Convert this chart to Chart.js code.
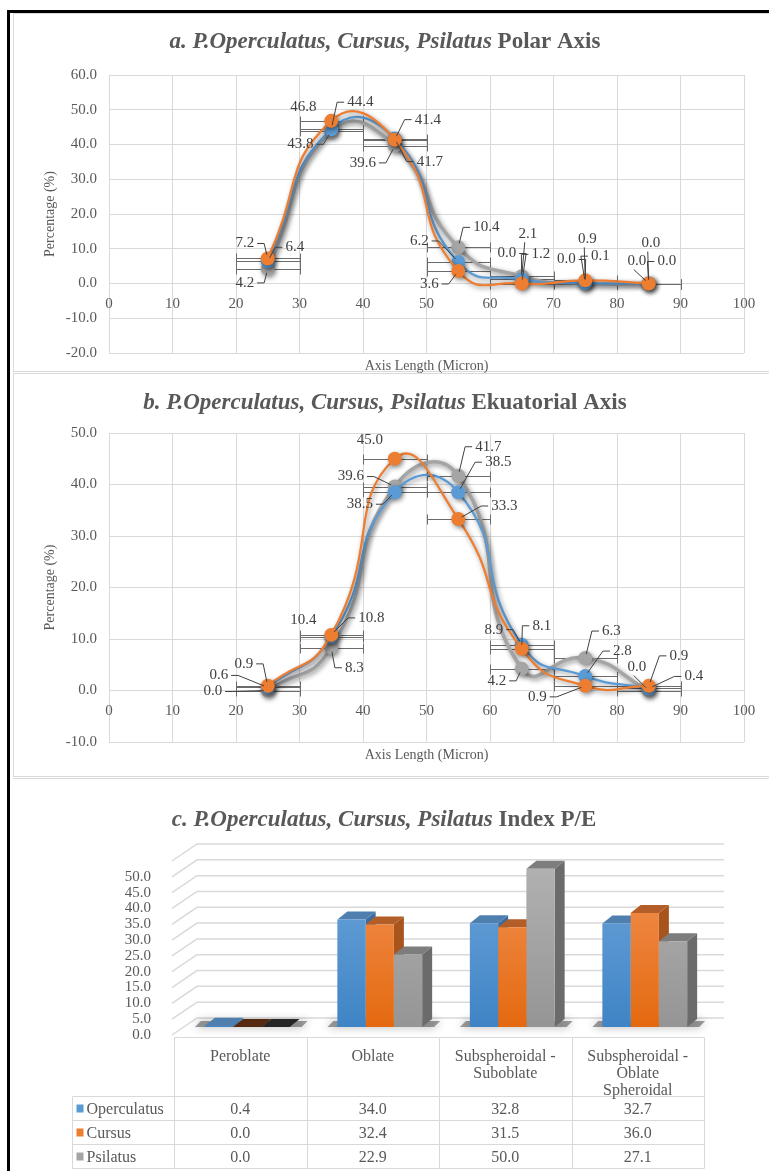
<!DOCTYPE html>
<html>
<head>
<meta charset="utf-8">
<script src="https://cdn.jsdelivr.net/npm/chart.js@4.4.1/dist/chart.umd.min.js"></script>
<style>
  body { margin: 0; background: #fff; width: 769px; height: 1171px; overflow: hidden; position: relative; }
  .frame { position: absolute; left: 7px; top: 10px; width: 770px; height: 1170px; border-left: 3px solid #000; border-top: 3px solid #000; }
  .panel { position: absolute; left: 13px; width: 760px; box-sizing: border-box; border: 1px solid #d9d9d9; }
  canvas { position: absolute; left: 0; top: 0; }
</style>
</head>
<body>
<div class="frame"></div>
<div class="panel" style="top:13px;height:359px"><canvas id="chartA" width="755" height="362"></canvas></div>
<div class="panel" style="top:373px;height:404px;background:#fff"><canvas id="chartB" width="755" height="402"></canvas></div>
<div class="panel" style="top:778px;height:400px;border-bottom:none;border-left:none;background:#fff"><canvas id="chartC" width="755" height="393"></canvas></div>

<script>
// data
const seriesNames = ['Operculatus', 'Cursus', 'Psilatus']
const axisLengthMid = [25, 35, 45, 55, 65, 75, 85]
const errorHalfWidth = 5 // class width is 10 micron

const polarOperculatus = [6.4, 44.4, 41.7, 6.2, 1.2, 0.1, 0.0]
const polarCursus = [7.2, 46.8, 41.4, 3.6, 0.0, 0.9, 0.0]
const polarPsilatus = [4.2, 43.8, 39.6, 10.4, 2.1, 0.0, 0.0]

const equatorialOperculatus = [0.6, 10.4, 38.5, 38.5, 8.9, 2.8, 0.4]
const equatorialCursus = [0.9, 10.8, 45.0, 33.3, 8.1, 0.9, 0.9]
const equatorialPsilatus = [0.0, 8.3, 39.6, 41.7, 4.2, 6.3, 0.0]

const shapeClasses = ['Peroblate', 'Oblate', ['Subspheroidal -', 'Suboblate'], ['Subspheroidal -', 'Oblate', 'Spheroidal']]
const indexOperculatus = [0.4, 34.0, 32.8, 32.7]
const indexCursus = [0.0, 32.4, 31.5, 36.0]
const indexPsilatus = [0.0, 22.9, 50.0, 27.1]

// styles
const seriesColors = ['#5b9bd5', '#ed7d31', '#a5a5a5']
const gradTop = ['#70a7dc', '#f3955a', '#b3b3b3']
const gradBottom = ['#3f84c5', '#e4690f', '#959595']
const sideColors = ['#3c6d9e', '#a8541d', '#6b6b6b']
const topColors = ['#4f7fae', '#b35e28', '#7d7d7d']
const zeroTopColors = ['#4d78a3', '#552a10', '#262626']

// label offsets [dx, dy, leader] per series per point
const polarLabelPos = [
  [[27, -14, 1], [29, -27, 1], [35, 23, 1], [-39, -21, 1], [19, -25, 1], [15, -27, 1], [18, -22, 1]],
  [[-23, -15, 1], [-28, -14, 0], [33, -20, 1], [-29, 13, 1], [-15, -30, 1], [2, -41, 1], [2, -40, 1]],
  [[-23, 14, 1], [-31, 13, 1], [-32, 17, 1], [28, -20, 1], [6, -42, 1], [-19, -24, 1], [-12, -22, 1]],
]
const equatorialLabelPos = [
  [[-49, -12, 1], [-28, -17, 0], [-35, 12, 1], [40, -30, 1], [-28, -15, 1], [37, -25, 1], [45, -12, 1]],
  [[-24, -22, 1], [40, -17, 1], [-25, -19, 0], [46, -13, 1], [20, -23, 1], [-48, 11, 1], [30, -30, 1]],
  [[-55, 1, 1], [23, 20, 1], [-44, -10, 1], [30, -29, 1], [-25, 12, 1], [26, -27, 1], [-12, -23, 1]],
]

Chart.defaults.font.family = '"Liberation Serif", "Times New Roman", serif'
Chart.defaults.color = '#595959'
const gridColor = '#d9d9d9'

const titlePlugin = (lead, tail, cx, cy) => ({
  id: 'panelTitle',
  afterDraw(chart) {
    const { ctx } = chart
    ctx.save()
    ctx.fillStyle = '#595959'
    ctx.textBaseline = 'middle'
    ctx.textAlign = 'left'
    const f1 = 'italic bold 23px "Liberation Serif"'
    const f2 = 'bold 23px "Liberation Serif"'
    ctx.font = f1
    const w1 = ctx.measureText(lead).width
    ctx.font = f2
    const w2 = ctx.measureText(tail).width
    const x0 = cx - (w1 + w2) / 2
    ctx.font = f1
    ctx.fillText(lead, x0, cy)
    ctx.font = f2
    ctx.fillText(tail, x0 + w1, cy)
    ctx.restore()
  },
})

const axisTitlePlugin = (text, cy) => ({
  id: 'axisTitle',
  afterDraw(chart) {
    const { ctx, chartArea } = chart
    ctx.save()
    ctx.font = '14px "Liberation Serif"'
    ctx.fillStyle = '#595959'
    ctx.textAlign = 'center'
    ctx.textBaseline = 'middle'
    ctx.fillText(text, (chartArea.left + chartArea.right) / 2, cy)
    ctx.restore()
  },
})

const errorBarsPlugin = {
  id: 'errorBars',
  beforeDatasetsDraw(chart) {
    const { ctx, scales: { x, y } } = chart
    ctx.save()
    ctx.strokeStyle = '#6b6b6b'
    ctx.lineWidth = 1
    chart.data.datasets.forEach(ds => {
      ds.data.forEach(p => {
        const py = Math.round(y.getPixelForValue(p.y)) + 0.5
        const x1 = Math.round(x.getPixelForValue(p.x - errorHalfWidth)) + 0.5
        const x2 = Math.round(x.getPixelForValue(p.x + errorHalfWidth)) + 0.5
        ctx.beginPath()
        ctx.moveTo(x1, py)
        ctx.lineTo(x2, py)
        ctx.moveTo(x1, py - 5)
        ctx.lineTo(x1, py + 5)
        ctx.moveTo(x2, py - 5)
        ctx.lineTo(x2, py + 5)
        ctx.stroke()
      })
    })
    ctx.restore()
  },
}

const shadowPlugin = {
  id: 'shadow',
  beforeDatasetDraw(chart) {
    const { ctx } = chart
    ctx.save()
    ctx.shadowColor = 'rgba(0,0,0,0.45)'
    ctx.shadowBlur = 5
    ctx.shadowOffsetX = 1.5
    ctx.shadowOffsetY = 2
  },
  afterDatasetDraw(chart) {
    chart.ctx.restore()
  },
}

const pointLabelsPlugin = offsets => ({
  id: 'pointLabels',
  afterDatasetsDraw(chart) {
    const { ctx } = chart
    ctx.save()
    ctx.font = '15px "Liberation Serif"'
    ctx.fillStyle = '#404040'
    ctx.strokeStyle = '#404040'
    ctx.lineWidth = 1
    ctx.textAlign = 'center'
    ctx.textBaseline = 'middle'
    chart.data.datasets.forEach((ds, i) => {
      const meta = chart.getDatasetMeta(i)
      meta.data.forEach((pt, j) => {
        const [dx, dy, leader] = offsets[i][j]
        const text = ds.data[j].y.toFixed(1)
        const lx = pt.x + dx
        const ly = pt.y + dy
        const hw = ctx.measureText(text).width / 2
        if (leader) {
          let sx, sy, ex, ey
          if (Math.abs(dx) <= hw + 4) {
            sx = ex = lx - 3
            sy = ey = dy < 0 ? ly + 8 : ly - 8
          } else {
            sx = dx > 0 ? lx - hw - 3 : lx + hw + 3
            ex = dx > 0 ? sx - 7 : sx + 7
            sy = ey = ly
          }
          const vx = pt.x - ex
          const vy = pt.y - ey
          const len = Math.hypot(vx, vy) || 1
          const k = Math.max(0, len - 4) / len
          ctx.beginPath()
          ctx.moveTo(sx, sy)
          ctx.lineTo(ex, ey)
          ctx.lineTo(ex + vx * k, ey + vy * k)
          ctx.stroke()
        }
        ctx.fillText(text, lx, ly)
      })
    })
    ctx.restore()
  },
})

const lineDatasets = values =>
  values.map((vals, i) => ({
    label: seriesNames[i],
    data: vals.map((v, j) => ({ x: axisLengthMid[j], y: v })),
    borderColor: seriesColors[i],
    backgroundColor: seriesColors[i],
    borderWidth: i === 2 ? 3.5 : 2.25,
    pointRadius: 7,
    pointHoverRadius: 7,
    pointBorderWidth: 0,
    tension: 0.55,
    order: [2, 1, 3][i],
  }))

const makeLineChart = (id, values, yMin, yMax, pad, labelPos, lead, tail, titleY, axisTitleY) =>
  new Chart(document.getElementById(id), {
    type: 'line',
    data: { datasets: lineDatasets(values) },
    options: {
      responsive: false,
      animation: false,
      layout: { padding: pad },
      scales: {
        x: {
          type: 'linear',
          position: { y: 0 },
          min: 0,
          max: 100,
          ticks: { stepSize: 10, padding: 12, font: { size: 15 } },
          grid: { color: gridColor, drawTicks: false },
          border: { display: false },
        },
        y: {
          min: yMin,
          max: yMax,
          ticks: { stepSize: 10, padding: 12, font: { size: 15 }, callback: v => v.toFixed(1) },
          grid: { color: gridColor, drawTicks: false },
          border: { display: false },
          title: { display: true, text: 'Percentage (%)', font: { size: 14 }, padding: { top: 28, bottom: 0 } },
          afterFit: s => {
            s.width = 95
          },
        },
      },
      plugins: { legend: { display: false }, tooltip: { enabled: false } },
    },
    plugins: [
      errorBarsPlugin,
      shadowPlugin,
      pointLabelsPlugin(labelPos),
      titlePlugin(lead, tail, 371, titleY),
      axisTitlePlugin('Axis Length (Micron)', axisTitleY),
    ],
  })

makeLineChart('chartA', [polarOperculatus, polarCursus, polarPsilatus], -20, 60,
  { top: 61, bottom: 23, left: 0, right: 25 }, polarLabelPos,
  'a. P.Operculatus, Cursus, Psilatus', ' Polar Axis', 28, 352)

makeLineChart('chartB', [equatorialOperculatus, equatorialCursus, equatorialPsilatus], -10, 50,
  { top: 59, bottom: 34, left: 0, right: 25 }, equatorialLabelPos,
  'b. P.Operculatus, Cursus, Psilatus', ' Ekuatorial Axis', 29, 381)

// ---------- c. index P/E (3D look columns + data table)
const depthX = 10
const depthY = 8
const shiftX = 7

const wallPlugin = {
  id: 'walls',
  beforeDatasetsDraw(chart) {
    const { ctx, chartArea, scales: { y } } = chart
    ctx.save()
    ctx.strokeStyle = gridColor
    ctx.lineWidth = 1.5
    y.ticks.forEach(t => {
      const py = y.getPixelForValue(t.value)
      ctx.beginPath()
      ctx.moveTo(chartArea.left - 2, py + 8)
      ctx.lineTo(chartArea.left + 23, py - 9)
      ctx.lineTo(chartArea.right + 20, py - 9)
      ctx.stroke()
    })
    ctx.restore()

    // side and top faces, fronts are drawn by the chart itself
    ctx.save()
    ctx.translate(shiftX, 0)
    const metas = chart.data.datasets.map((d, i) => chart.getDatasetMeta(i))
    chart.data.labels.forEach((lab, j) => {
      const first = metas[0].data[j]
      const last = metas[metas.length - 1].data[j]
      ctx.save()
      ctx.fillStyle = 'rgba(20,20,20,0.4)'
      ctx.shadowColor = 'rgba(0,0,0,0.8)'
      ctx.shadowBlur = 10
      const gl = first.x - first.width / 2 - 10
      const gr = last.x + last.width / 2 + depthX + 8
      ctx.beginPath()
      ctx.moveTo(gl, first.base)
      ctx.lineTo(gr - 6, first.base)
      ctx.lineTo(gr, first.base - depthY + 2)
      ctx.lineTo(gl + 6, first.base - depthY + 2)
      ctx.fill()
      ctx.restore()
      metas.forEach((meta, i) => {
        const bar = meta.data[j]
        const v = chart.data.datasets[i].data[j]
        const l = bar.x - bar.width / 2
        const r = bar.x + bar.width / 2
        ctx.fillStyle = sideColors[i]
        ctx.beginPath()
        ctx.moveTo(r, bar.y)
        ctx.lineTo(r + depthX, bar.y - depthY)
        ctx.lineTo(r + depthX, bar.base - depthY)
        ctx.lineTo(r, bar.base)
        ctx.fill()
        ctx.fillStyle = v < 0.1 ? zeroTopColors[i] : topColors[i]
        ctx.beginPath()
        ctx.moveTo(l, bar.y)
        ctx.lineTo(r, bar.y)
        ctx.lineTo(r + depthX, bar.y - depthY)
        ctx.lineTo(l + depthX, bar.y - depthY)
        ctx.fill()
      })
    })
  },
  afterDatasetsDraw(chart) {
    chart.ctx.restore()
  },
}

const tablePlugin = {
  id: 'dataTable',
  afterDraw(chart) {
    const { ctx, scales: { x, y } } = chart
    const n = chart.data.labels.length
    const half = (x.right - x.left) / n / 2
    const top = Math.round(y.getPixelForValue(0)) + 10.5
    const headBottom = top + 59
    const rowH = 24
    const legendLeft = 59.5
    const colRight = Math.round(x.right) + 0.5
    const bottom = headBottom + rowH * 3
    ctx.save()
    ctx.strokeStyle = gridColor
    ctx.lineWidth = 1
    ctx.beginPath()
    ctx.moveTo(Math.round(x.left) + 0.5, top)
    ctx.lineTo(colRight, top)
    for (let r = 0; r <= 3; r++) {
      ctx.moveTo(legendLeft, headBottom + r * rowH)
      ctx.lineTo(colRight, headBottom + r * rowH)
    }
    ctx.moveTo(legendLeft, headBottom)
    ctx.lineTo(legendLeft, bottom)
    for (let j = 0; j <= n; j++) {
      const cx = Math.round(x.left + j * half * 2) + 0.5
      ctx.moveTo(cx, top)
      ctx.lineTo(cx, bottom)
    }
    ctx.stroke()

    ctx.font = '16px "Liberation Serif"'
    ctx.fillStyle = '#595959'
    ctx.textAlign = 'center'
    ctx.textBaseline = 'middle'
    chart.data.labels.forEach((lab, j) => {
      const cx = x.getPixelForValue(j)
      const lines = Array.isArray(lab) ? lab : [lab]
      lines.forEach((t, k) => ctx.fillText(t, cx, top + 19 + k * 17))
      chart.data.datasets.forEach((ds, i) => {
        ctx.fillText(ds.data[j].toFixed(1), cx, headBottom + i * rowH + rowH / 2 + 1)
      })
    })
    ctx.textAlign = 'left'
    chart.data.datasets.forEach((ds, i) => {
      const cy = headBottom + i * rowH + rowH / 2
      ctx.fillStyle = seriesColors[i]
      ctx.fillRect(legendLeft + 4, cy - 4, 7, 8)
      ctx.fillStyle = '#595959'
      ctx.fillText(ds.label, legendLeft + 14, cy + 1)
    })
    ctx.restore()
  },
}

new Chart(document.getElementById('chartC'), {
  type: 'bar',
  data: {
    labels: shapeClasses,
    datasets: [indexOperculatus, indexCursus, indexPsilatus].map((vals, i) => ({
      label: seriesNames[i],
      data: vals,
      borderWidth: 0,
      clip: false,
      backgroundColor: c => {
        const { ctx, chartArea } = c.chart
        if (!chartArea) return seriesColors[i]
        const g = ctx.createLinearGradient(0, chartArea.top, 0, chartArea.bottom)
        g.addColorStop(0, gradTop[i])
        g.addColorStop(1, gradBottom[i])
        return g
      },
    })),
  },
  options: {
    responsive: false,
    animation: false,
    layout: { padding: { top: 74, right: 64, bottom: 145, left: 0 } },
    datasets: { bar: { categoryPercentage: 0.64, barPercentage: 1 } },
    scales: {
      x: { display: false },
      y: {
        min: 0,
        max: 55,
        ticks: {
          stepSize: 5,
          autoSkip: false,
          labelOffset: 8,
          padding: 15,
          font: { size: 15 },
          callback: v => (v > 50 ? '' : v.toFixed(1)),
        },
        grid: { display: false },
        border: { display: false },
        afterFit: s => {
          s.width = 161
        },
      },
    },
    plugins: { legend: { display: false }, tooltip: { enabled: false } },
  },
  plugins: [wallPlugin, tablePlugin, titlePlugin('c. P.Operculatus, Cursus, Psilatus', ' Index P/E', 371, 41)],
})
</script>
</body>
</html>
